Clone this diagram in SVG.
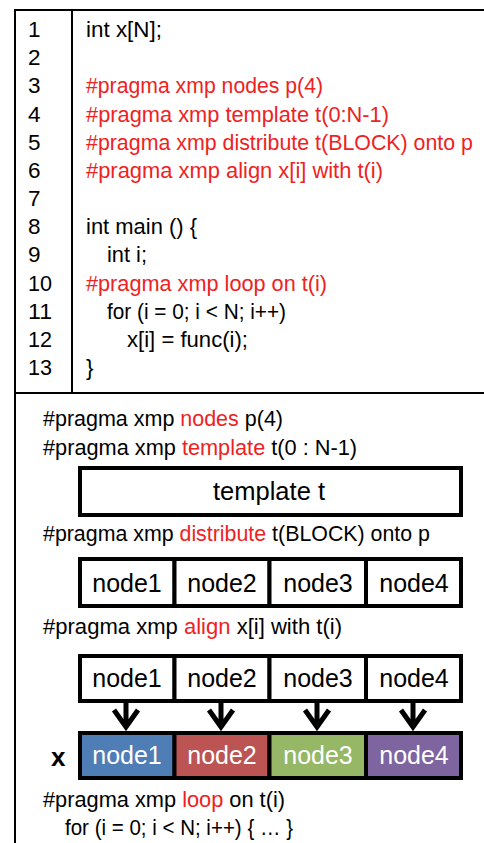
<svg xmlns="http://www.w3.org/2000/svg" width="484" height="843" viewBox="0 0 484 843">
<style>
text{font-family:"Liberation Sans",Arial,sans-serif;font-size:22.5px;fill:#000}
.r{fill:#ee2222}
.n{font-size:25px;text-anchor:middle}
.w{fill:#fff}
.box{fill:#fff;stroke:#000;stroke-width:4}
.frame{stroke:#000;stroke-width:2;fill:none}
.arrow{stroke:#000;stroke-width:5;fill:none}
</style>
<g id="frame">
<line class="frame" x1="15" y1="10" x2="484" y2="10"/>
<line class="frame" x1="15" y1="9" x2="15" y2="843"/>
<line class="frame" x1="72" y1="10" x2="72" y2="393"/>
<line class="frame" x1="15" y1="393" x2="484" y2="393" stroke-width="2.5"/>
</g>
<g id="linenumbers">
<text x="28" y="37">1</text>
<text x="28" y="65.2">2</text>
<text x="28" y="93.3">3</text>
<text x="28" y="121.5">4</text>
<text x="28" y="149.7">5</text>
<text x="28" y="177.9">6</text>
<text x="28" y="206">7</text>
<text x="28" y="234.2">8</text>
<text x="28" y="262.4">9</text>
<text x="28" y="290.5" textLength="24" lengthAdjust="spacingAndGlyphs">10</text>
<text x="28" y="318.7" textLength="24" lengthAdjust="spacingAndGlyphs">11</text>
<text x="28" y="346.9" textLength="24" lengthAdjust="spacingAndGlyphs">12</text>
<text x="28" y="375" textLength="24" lengthAdjust="spacingAndGlyphs">13</text>
</g>
<g id="code">
<text x="86" y="37" textLength="76" lengthAdjust="spacingAndGlyphs">int x[N];</text>
<text x="86" y="93.3" class="r" textLength="237" lengthAdjust="spacingAndGlyphs">#pragma xmp nodes p(4)</text>
<text x="86" y="121.5" class="r" textLength="303" lengthAdjust="spacingAndGlyphs">#pragma xmp template t(0:N-1)</text>
<text x="86" y="149.7" class="r" textLength="387" lengthAdjust="spacingAndGlyphs">#pragma xmp distribute t(BLOCK) onto p</text>
<text x="86" y="177.9" class="r" textLength="297" lengthAdjust="spacingAndGlyphs">#pragma xmp align x[i] with t(i)</text>
<text x="86" y="234.2" textLength="111" lengthAdjust="spacingAndGlyphs">int main () {</text>
<text x="107" y="262.4" textLength="40" lengthAdjust="spacingAndGlyphs">int i;</text>
<text x="86" y="290.5" class="r" textLength="241" lengthAdjust="spacingAndGlyphs">#pragma xmp loop on t(i)</text>
<text x="107" y="318.7" textLength="179" lengthAdjust="spacingAndGlyphs">for (i = 0; i &lt; N; i++)</text>
<text x="127" y="346.9" textLength="121" lengthAdjust="spacingAndGlyphs">x[i] = func(i);</text>
<text x="86" y="375">}</text>
</g>
<g id="directives">
<text x="43" y="426" textLength="240" lengthAdjust="spacingAndGlyphs">#pragma xmp <tspan class="r">nodes</tspan> p(4)</text>
<text x="43" y="455" textLength="314" lengthAdjust="spacingAndGlyphs">#pragma xmp <tspan class="r">template</tspan> t(0 : N-1)</text>
<text x="43" y="541" textLength="387" lengthAdjust="spacingAndGlyphs">#pragma xmp <tspan class="r">distribute</tspan> t(BLOCK) onto p</text>
<text x="43" y="634" textLength="299" lengthAdjust="spacingAndGlyphs">#pragma xmp <tspan class="r">align</tspan> x[i] with t(i)</text>
<text x="43" y="807" textLength="242" lengthAdjust="spacingAndGlyphs">#pragma xmp <tspan class="r">loop</tspan> on t(i)</text>
<text x="65" y="835" textLength="228" lengthAdjust="spacingAndGlyphs">for (i = 0; i &lt; N; i++) { … }</text>
</g>
<g id="template-t">
<rect class="box" x="80" y="468" width="381" height="47"/>
<text class="n" x="269" y="500" textLength="112" lengthAdjust="spacingAndGlyphs">template t</text>
</g>
<g id="dist-node1"><rect class="box" x="80" y="559" width="94.5" height="47"/><text class="n" x="127" y="592">node1</text></g>
<g id="dist-node2"><rect class="box" x="174.5" y="559" width="95" height="47"/><text class="n" x="222" y="592">node2</text></g>
<g id="dist-node3"><rect class="box" x="269.5" y="559" width="96.5" height="47"/><text class="n" x="318" y="592">node3</text></g>
<g id="dist-node4"><rect class="box" x="366" y="559" width="95" height="47"/><text class="n" x="414" y="592">node4</text></g>
<g id="align-node1"><rect class="box" x="80" y="656" width="94.5" height="45"/><text class="n" x="127" y="687">node1</text></g>
<g id="align-node2"><rect class="box" x="174.5" y="656" width="95" height="45"/><text class="n" x="222" y="687">node2</text></g>
<g id="align-node3"><rect class="box" x="269.5" y="656" width="96.5" height="45"/><text class="n" x="318" y="687">node3</text></g>
<g id="align-node4"><rect class="box" x="366" y="656" width="95" height="45"/><text class="n" x="414" y="687">node4</text></g>
<g id="x-label"><text x="51" y="766" style="font-size:26px;font-weight:bold">x</text></g>
<g id="x-node1"><rect class="box" x="80" y="733" width="94.5" height="45" style="fill:#4f7db5"/><text class="n w" x="127" y="764">node1</text></g>
<g id="x-node2"><rect class="box" x="174.5" y="733" width="95" height="45" style="fill:#bb5452"/><text class="n w" x="222" y="764">node2</text></g>
<g id="x-node3"><rect class="box" x="269.5" y="733" width="96.5" height="45" style="fill:#96b766"/><text class="n w" x="318" y="764">node3</text></g>
<g id="x-node4"><rect class="box" x="366" y="733" width="95" height="45" style="fill:#7f65a0"/><text class="n w" x="414" y="764">node4</text></g>
<g id="connectors">
<path class="arrow" d="M126,703 L126,727 M114,710 L126,727 L138,710"/>
<path class="arrow" d="M221,703 L221,727 M209,710 L221,727 L233,710"/>
<path class="arrow" d="M317,703 L317,727 M305,710 L317,727 L329,710"/>
<path class="arrow" d="M413,703 L413,727 M401,710 L413,727 L425,710"/>
</g>
</svg>
